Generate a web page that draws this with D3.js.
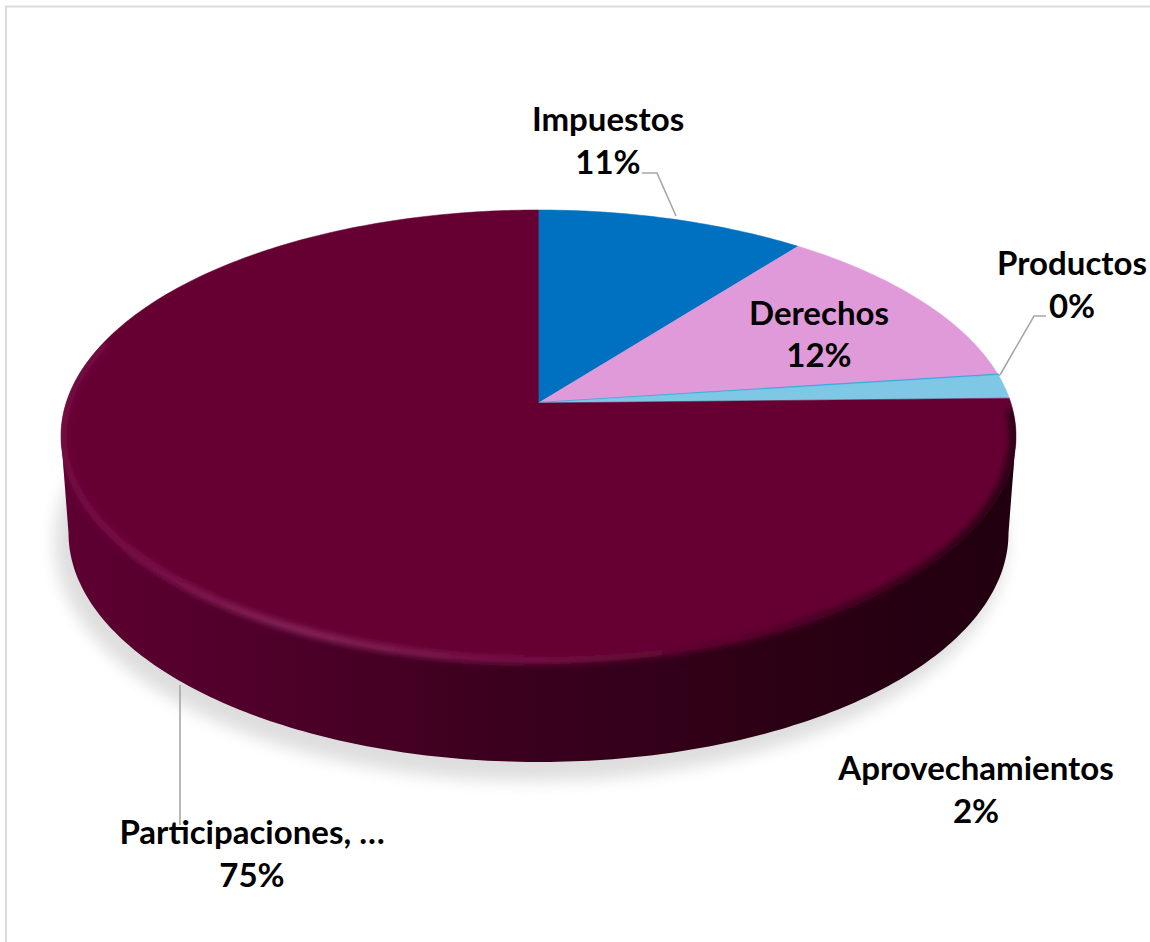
<!DOCTYPE html>
<html>
<head>
<meta charset="utf-8">
<script src="https://d3js.org/d3.v7.min.js"></script>
<style>
  html, body { margin: 0; padding: 0; background: #fff; }
  svg { display: block; }
</style>
</head>
<body>
<svg id="chart"></svg>
<script>
const categories = ['Impuestos', 'Derechos', 'Productos', 'Aprovechamientos', 'Participaciones, …']
const values = [10.5, 12.4, 0.05, 1.7, 75.35]
const colors = ['#0070c0', '#e09ad9', '#3aa9e2', '#7ec8e6', '#660033']

const width = 1150
const height = 942

// pie apex and the perspective tilt of the disc
const cx = 538.5
const cy = 403
const radiusX = 472.4
const radiusY = 221.2
const tilt = 0.146

// bottom rim of the disc
const rimX = 470
const rimCy = 533
const rimY = 229

const labelPos = [
  { x: 608, y: 119, dy: 43 },
  { x: 819, y: 313, dy: 42 },
  { x: 1072, y: 263, dy: 43 },
  { x: 976, y: 768, dy: 43 },
  { x: 252, y: 832, dy: 43 },
]

const leaders = [
  [[642, 173], [657, 173], [676, 216]],
  [[1046, 316], [1034, 316], [1000, 375]],
  [[180, 685], [180, 825]],
]

const svg = d3.select('#chart').attr('width', width).attr('height', height)
const defs = svg.append('defs')

// angle on the disc (clockwise from north) to screen position
function project(a, r) {
  const u = r * Math.sin(a)
  const v = r * Math.cos(a)
  const w = 1 + tilt * v
  return [cx + (radiusX * u) / w, cy - (radiusY * v) / w]
}

function sampleAngles(a0, a1) {
  const n = Math.max(2, Math.ceil(Math.abs(a1 - a0) * 60))
  return d3.range(n + 1).map((i) => a0 + ((a1 - a0) * i) / n)
}

const line = d3.line()
const pie = d3.pie().sort(null).value((d) => d)
const arcs = pie(values)

// gradients
function hGradient(id, stops) {
  const g = defs.append('linearGradient')
    .attr('id', id)
    .attr('gradientUnits', 'userSpaceOnUse')
    .attr('x1', 60).attr('x2', 1016).attr('y1', 0).attr('y2', 0)
  stops.forEach((s) => g.append('stop').attr('offset', s[0]).attr('stop-color', s[1]))
}
hGradient('sideFill', [
  [0, '#5e0032'], [0.2, '#50002a'], [0.45, '#3c001e'], [0.75, '#2c0014'], [1, '#210010'],
])
hGradient('rimFill', [
  [0, '#740842'], [0.25, '#8a2a5e'], [0.5, '#741045'], [0.72, '#520029'], [0.88, '#2c0016'], [1, '#1c000c'],
])
defs.append('filter').attr('id', 'shadowBlur')
  .attr('x', '-10%').attr('y', '-10%').attr('width', '120%').attr('height', '120%')
  .append('feGaussianBlur').attr('stdDeviation', 8)
defs.append('filter').attr('id', 'rimBlur')
  .attr('x', '-10%').attr('y', '-10%').attr('width', '120%').attr('height', '120%')
  .append('feGaussianBlur').attr('stdDeviation', 3)

// side wall outline and top outline, together they clip the bevel
const rimPoints = sampleAngles(Math.PI, 0).map((t) => [
  cx + rimX * Math.cos(t),
  rimCy + rimY * Math.sin(t),
])
const leftTop = project(Math.PI * 2 - Math.acos(-tilt), 1)
const rightTop = project(Math.acos(-tilt), 1)
const sideOutline = line([leftTop, ...rimPoints, rightTop]) + 'Z'
const topOutline = line(sampleAngles(0, 2 * Math.PI).map((a) => project(a, 1))) + 'Z'
const discClip = defs.append('clipPath').attr('id', 'discClip')
discClip.append('path').attr('d', sideOutline)
discClip.append('path').attr('d', topOutline)

// frame
svg.append('path')
  .attr('d', `M6,${height}V6.5H${width}`)
  .attr('fill', 'none')
  .attr('stroke', '#dcdcdc')
  .attr('stroke-width', 2)

// soft shadow under the disc
svg.append('ellipse')
  .attr('cx', cx - 8)
  .attr('cy', rimCy + 9)
  .attr('rx', rimX + 6)
  .attr('ry', rimY + 10)
  .attr('fill', '#dedede')
  .attr('filter', 'url(#shadowBlur)')

// side wall
svg.append('path')
  .attr('d', sideOutline)
  .attr('fill', 'url(#sideFill)')

// top face slices
const slices = svg.append('g').attr('id', 'slices')
slices.selectAll('path')
  .data(arcs)
  .join('path')
  .attr('d', (d) => line([[cx, cy], ...sampleAngles(d.startAngle, d.endAngle).map((a) => project(a, 1))]) + 'Z')
  .attr('fill', (d, i) => colors[i])
  .attr('stroke', (d, i) => colors[i])
  .attr('stroke-width', (d, i) => (i === 2 ? 2 : 0.5))

// bevel along the lower rim, starts at the right side and runs round to the left
svg.append('g')
  .attr('clip-path', 'url(#discClip)')
  .append('path')
  .attr('d', line(sampleAngles(1.6, 5.0).map((a) => project(a, 0.995))))
  .attr('fill', 'none')
  .attr('stroke', 'url(#rimFill)')
  .attr('stroke-width', 7)
  .attr('filter', 'url(#rimBlur)')

// leader lines
svg.append('g').selectAll('path')
  .data(leaders)
  .join('path')
  .attr('d', (d) => line(d))
  .attr('fill', 'none')
  .attr('stroke', '#a6a6a6')
  .attr('stroke-width', 1.6)

// labels
const labels = svg.append('g')
  .attr('font-family', 'Lato, sans-serif')
  .attr('font-weight', 700)
  .attr('font-size', 33)
  .attr('text-anchor', 'middle')
  .attr('fill', '#000')
  .selectAll('g')
  .data(categories)
  .join('g')
  .attr('transform', (d, i) => `translate(${labelPos[i].x},${labelPos[i].y})`)
labels.append('text')
  .attr('dy', '0.35em')
  .text((d) => d)
labels.append('text')
  .attr('y', (d, i) => labelPos[i].dy)
  .attr('dy', '0.35em')
  .text((d, i) => Math.round(values[i]) + '%')
</script>
</body>
</html>
